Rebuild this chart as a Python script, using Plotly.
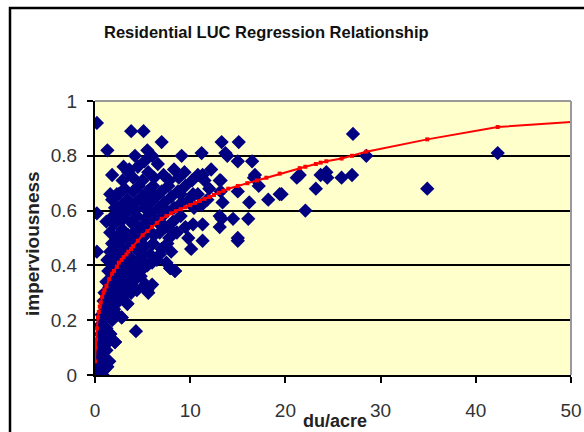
import plotly.graph_objects as go

# ---- data ----
title_text = "Residential LUC Regression Relationship"
x_title = "du/acre"
y_title = "imperviousness"
x_ticks = [0, 10, 20, 30, 40, 50]
y_ticks = [0, 0.2, 0.4, 0.6, 0.8, 1]
y_tick_labels = ["0", "0.2", "0.4", "0.6", "0.8", "1"]

obs_x = [
    0.1, 0.2, 0.3, 0.4, 0.5, 0.6, 0.7, 0.8, 0.9, 1.0, 1.1, 1.3, 1.5, 0.2, 0.4, 0.6, 0.3, 0.8, 1.0, 1.2,
    0.5, 0.9, 1.2, 1.4, 1.6, 2.1, 1.8, 1.1, 1.4, 0.7,
    0.9, 1.3, 1.6, 2.0, 2.3, 2.8, 2.5, 3.0, 3.4, 1.9, 2.2, 1.0,
    1.2, 1.5, 1.8, 2.1, 2.4, 2.7, 3.0, 3.3, 3.6, 4.0, 4.4, 5.3, 5.6, 4.8, 2.0, 3.2, 4.2, 1.4, 2.6, 3.8, 4.3, 4.8,
    1.3, 1.6, 1.9, 2.2, 2.5, 2.8, 3.1, 3.4, 3.7, 4.0, 4.3, 4.6, 4.9, 5.2, 5.5, 5.8, 6.1, 6.5, 7.0, 7.5, 7.9, 8.4,
    2.0, 3.0, 4.4, 5.0, 6.0, 3.6, 2.6, 1.8, 6.8, 7.6, 8.0,
    1.6, 2.0, 2.3, 2.6, 2.9, 3.2, 3.5, 3.8, 4.1, 4.4, 4.7, 5.0, 5.3, 5.6, 5.9, 6.2, 6.5, 6.8, 7.1, 7.4, 7.8,
    8.2, 8.6, 9.0, 9.5, 9.8, 2.7, 4.0, 5.5, 7.0, 3.0, 6.0, 8.0, 1.9, 10.3,
    1.8, 2.1, 2.5, 2.8, 3.1, 3.4, 3.7, 4.0, 4.3, 4.6, 4.9, 5.2, 5.5, 5.8, 6.1, 6.4, 6.7, 7.0, 7.3, 7.7, 8.0,
    8.3, 8.7, 9.1, 9.5, 9.9, 10.4, 10.8, 11.2, 3.0, 5.0, 6.0, 7.5, 9.0, 4.2,
    2.9, 3.5, 4.0, 4.5, 5.0, 5.6, 6.2, 6.6, 7.2, 7.8, 8.3, 8.8, 9.4, 10.2, 10.8, 11.5, 12.0, 11.8, 5.2, 3.0,
    6.0, 4.2, 5.5,
    0.2, 1.3, 3.8, 5.1, 7.0, 1.8, 3.6, 9.1, 11.2, 13.3, 15.1, 13.7, 16.5, 15.0, 16.7, 17.2, 18.2, 19.4,
    16.2, 16.1, 15.0, 14.5, 13.1, 13.1, 11.3, 10.1, 12.2, 13.1, 0.2, 0.2, 1.2, 2.3, 1.6, 2.4, 21.2,
    27.1, 28.5, 42.3, 34.9, 21.5, 22.1, 23.2, 23.7, 24.3, 24.4, 25.9, 27.0, 19.6,
    13.3, 11.3, 15.0, 16.8, 13.2, 13.2, 13.4, 11.3, 15.0, 13.9, 10.3,
    4.3, 2.1, 1.6, 2.8, 3.4, 5.3, 8.4, 7.9, 5.5, 6.0,
]
obs_y = [
    0.00, 0.03, 0.01, 0.05, 0.02, 0.07, 0.03, 0.00, 0.05, 0.02, 0.06, 0.03, 0.05, 0.08, 0.12, 0.15, 0.10, 0.10, 0.13, 0.09,
    0.18, 0.20, 0.17, 0.12, 0.15, 0.12, 0.20, 0.24, 0.22, 0.22,
    0.27, 0.28, 0.26, 0.24, 0.22, 0.21, 0.27, 0.29, 0.26, 0.30, 0.29, 0.30,
    0.34, 0.32, 0.36, 0.33, 0.38, 0.31, 0.35, 0.32, 0.37, 0.34, 0.31, 0.33, 0.30, 0.36, 0.39, 0.39, 0.39, 0.38, 0.35, 0.30, 0.36, 0.38,
    0.42, 0.45, 0.41, 0.47, 0.43, 0.49, 0.41, 0.46, 0.43, 0.48, 0.41, 0.45, 0.42, 0.47, 0.40, 0.44, 0.48, 0.42, 0.46, 0.41, 0.39, 0.38,
    0.44, 0.45, 0.49, 0.44, 0.41, 0.40, 0.40, 0.48, 0.44, 0.48, 0.45,
    0.52, 0.55, 0.50, 0.57, 0.53, 0.59, 0.51, 0.56, 0.52, 0.58, 0.54, 0.50, 0.57, 0.53, 0.59, 0.51, 0.56, 0.52, 0.58, 0.54, 0.50,
    0.56, 0.52, 0.58, 0.54, 0.50, 0.52, 0.55, 0.55, 0.55, 0.57, 0.57, 0.53, 0.58, 0.55,
    0.64, 0.61, 0.66, 0.62, 0.68, 0.64, 0.61, 0.67, 0.63, 0.69, 0.65, 0.61, 0.67, 0.63, 0.69, 0.65, 0.61, 0.67, 0.63, 0.69, 0.65,
    0.61, 0.67, 0.63, 0.69, 0.64, 0.61, 0.66, 0.62, 0.62, 0.64, 0.66, 0.60, 0.66, 0.60,
    0.71, 0.74, 0.72, 0.76, 0.71, 0.74, 0.72, 0.77, 0.73, 0.71, 0.75, 0.72, 0.74, 0.71, 0.73, 0.71, 0.68, 0.64, 0.78, 0.76,
    0.80, 0.80, 0.82,
    0.92, 0.82, 0.89, 0.89, 0.85, 0.73, 0.75, 0.80, 0.81, 0.85, 0.85, 0.81, 0.78, 0.78, 0.72, 0.69, 0.64, 0.66,
    0.63, 0.57, 0.49, 0.57, 0.54, 0.58, 0.49, 0.46, 0.75, 0.71, 0.59, 0.45, 0.56, 0.66, 0.66, 0.61, 0.72,
    0.88, 0.80, 0.81, 0.68, 0.73, 0.60, 0.68, 0.73, 0.74, 0.72, 0.72, 0.73, 0.66,
    0.57, 0.55, 0.50, 0.73, 0.71, 0.67, 0.63, 0.73, 0.67, 0.80, 0.66,
    0.16, 0.12, 0.15, 0.21, 0.26, 0.33, 0.38, 0.39, 0.31, 0.33,
]

fit_x = [0.0, 0.05, 0.1, 0.2, 0.3, 0.4, 0.5, 0.6, 0.75, 0.9, 1.0, 1.2, 1.5, 1.8, 2.0, 2.3, 2.5, 2.8, 3.0, 3.3, 3.5, 3.8,
         4.0, 4.5, 5.0, 5.5, 6.0, 6.5, 7.0, 7.5, 8.0, 8.5, 9.0, 9.5, 10.0, 10.5, 11.0, 11.5, 12.0, 12.5,
         13.0, 13.5, 14.0, 15.0, 16.0, 17.0, 18.0, 19.4, 21.5, 22.1, 23.2, 23.7, 24.3, 25.9, 27.0, 28.5, 34.9, 42.3, 50.6]
fit_y = [0.05, 0.10, 0.13, 0.17, 0.21, 0.23, 0.25, 0.265, 0.285, 0.30, 0.31, 0.325, 0.35, 0.37, 0.38, 0.395, 0.41, 0.42, 0.43, 0.44, 0.45, 0.46,
         0.47, 0.49, 0.51, 0.525, 0.54, 0.555, 0.57, 0.58, 0.59, 0.598, 0.605, 0.612, 0.62, 0.628, 0.635, 0.643, 0.65, 0.657,
         0.665, 0.672, 0.68, 0.69, 0.70, 0.71, 0.72, 0.735, 0.755, 0.76, 0.77, 0.775, 0.78, 0.79, 0.80, 0.815, 0.86, 0.905, 0.925]

# ---- geometry helpers (pixel -> paper) ----
L, R, T, B = 95, 571, 101, 375
def px(x):
    return (x - L) / (R - L)
def py(y):
    return (B - y) / (B - T)

fig = go.Figure()
fig.add_trace(go.Scatter(
    x=obs_x, y=obs_y, mode="markers",
    marker=dict(symbol="diamond", size=11, color="#000080", line=dict(width=0)),
    showlegend=False, cliponaxis=True,
))
fig.add_trace(go.Scatter(
    x=fit_x, y=fit_y, mode="lines+markers",
    line=dict(color="#FF0000", width=2),
    marker=dict(symbol="square", size=4, color="#FF0000"),
    showlegend=False, cliponaxis=False,
))

fig.update_layout(
    width=584, height=432,
    margin=dict(l=L, r=584 - R, t=T, b=432 - B, autoexpand=False),
    paper_bgcolor="white",
    plot_bgcolor="#FFFFCC",
    font=dict(family="Liberation Sans, Arial, sans-serif", color="#333333"),
    showlegend=False,
)
fig.update_xaxes(
    range=[0, 50], tickvals=x_ticks, ticktext=[str(v) for v in x_ticks],
    showgrid=False, zeroline=False, automargin=False,
    showline=True, linecolor="black", linewidth=2,
    ticks="outside", ticklen=6, tickwidth=1.5, tickcolor="black",
    tickfont=dict(size=19, color="#333333"), ticklabelstandoff=11,
)
fig.update_yaxes(
    range=[0, 1], tickvals=y_ticks, ticktext=y_tick_labels,
    showgrid=True, gridcolor="black", gridwidth=2,
    zeroline=False, automargin=False,
    showline=True, linecolor="black", linewidth=2,
    ticks="outside", ticklen=6, tickwidth=1.5, tickcolor="black",
    tickfont=dict(size=19, color="#333333"), ticklabelstandoff=6,
)

# plot-area border (gray top/right)
fig.add_shape(type="line", xref="paper", yref="paper", x0=0, x1=1, y0=1, y1=1,
              line=dict(color="#999999", width=2), layer="above")
fig.add_shape(type="line", xref="paper", yref="paper", x0=1, x1=1, y0=0, y1=1,
              line=dict(color="#999999", width=2), layer="above")
# outer chart frame
fig.add_shape(type="rect", xref="paper", yref="paper",
              x0=px(10), x1=px(640), y0=py(480), y1=py(8),
              line=dict(color="black", width=2.5), layer="above")

fig.add_annotation(text="<b>" + title_text + "</b>", xref="paper", yref="paper",
                   x=px(266), y=py(32), showarrow=False,
                   font=dict(size=16.5, color="#111111"), xanchor="center", yanchor="middle")
fig.add_annotation(text="<b>" + x_title + "</b>", xref="paper", yref="paper",
                   x=px(335), y=py(421), showarrow=False,
                   font=dict(size=18, color="#222222"), xanchor="center", yanchor="middle")
fig.add_annotation(text="<b>" + y_title + "</b>", xref="paper", yref="paper",
                   x=px(33), y=py(243), showarrow=False, textangle=-90,
                   font=dict(size=19, color="#222222"), xanchor="center", yanchor="middle")

fig.write_html("out.html", config={"displayModeBar": False},
               post_script="document.body.style.margin='0';document.body.style.overflow='hidden';")
